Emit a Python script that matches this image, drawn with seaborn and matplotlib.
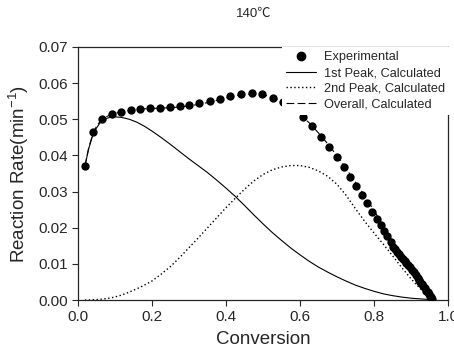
import numpy as np
import pandas as pd
import seaborn as sns
import matplotlib
matplotlib.use("Agg")
import matplotlib.pyplot as plt
from matplotlib.lines import Line2D

# experimental points
exp_conv = [0.020, 0.043, 0.067, 0.092, 0.117, 0.143, 0.169, 0.196, 0.222, 0.249,
            0.276, 0.302, 0.329, 0.356, 0.383, 0.411, 0.440, 0.470, 0.498, 0.526,
            0.555, 0.582, 0.607, 0.632, 0.656, 0.678, 0.699, 0.718, 0.735, 0.751,
            0.768, 0.781, 0.795, 0.807, 0.818, 0.827, 0.835, 0.845, 0.852,
            0.857, 0.862, 0.867, 0.872, 0.877, 0.882, 0.887, 0.892, 0.897, 0.902,
            0.907, 0.912, 0.917, 0.921, 0.925, 0.929, 0.933, 0.937, 0.941, 0.944,
            0.947, 0.950, 0.952, 0.954, 0.956]
exp_rate = [0.0371, 0.0465, 0.0500, 0.0514, 0.0520, 0.0525, 0.0528, 0.0530, 0.0532, 0.0534,
            0.0537, 0.0540, 0.0545, 0.0550, 0.0556, 0.0564, 0.0570, 0.0573, 0.0570, 0.0560,
            0.0548, 0.0530, 0.0506, 0.0481, 0.0450, 0.0422, 0.0396, 0.0367, 0.0341, 0.0315,
            0.0290, 0.0267, 0.0244, 0.0223, 0.0207, 0.0192, 0.0177, 0.0161, 0.0147,
            0.0140, 0.0133, 0.0127, 0.0120, 0.0114, 0.0108, 0.0102, 0.0097, 0.0091, 0.0084,
            0.0077, 0.0070, 0.0062, 0.0056, 0.0050, 0.0044, 0.0038, 0.0032, 0.0026, 0.0021,
            0.0016, 0.0011, 0.0008, 0.0005, 0.0002]

# calculated curves, read at these conversions
calc_conv = [0.02, 0.03, 0.04, 0.05, 0.06, 0.07, 0.08, 0.09, 0.10, 0.12, 0.14, 0.16, 0.18,
             0.20, 0.225, 0.25, 0.275, 0.30, 0.325, 0.35, 0.375, 0.40, 0.425, 0.45, 0.475,
             0.50, 0.525, 0.55, 0.575, 0.60, 0.625, 0.65, 0.675, 0.70, 0.725, 0.75, 0.775,
             0.80, 0.825, 0.85, 0.875, 0.90, 0.925, 0.94, 0.956]
peak1_rate = [0.0370, 0.0418, 0.0452, 0.0474, 0.0489, 0.0498, 0.0503, 0.0506, 0.0507, 0.0505,
              0.0500, 0.0492, 0.0481, 0.0468, 0.0450, 0.0431, 0.0411, 0.0391, 0.0372, 0.0353,
              0.0332, 0.0310, 0.0287, 0.0262, 0.0236, 0.0211, 0.0187, 0.0165, 0.0144, 0.0125,
              0.0107, 0.0091, 0.0077, 0.0064, 0.0052, 0.0041, 0.0032, 0.0024, 0.0017, 0.0012,
              0.0008, 0.0005, 0.0003, 0.0002, 0.0]
peak2_rate = [0.0, 0.0, 0.0001, 0.0001, 0.0002, 0.0003, 0.0004, 0.0006, 0.0008, 0.0014,
              0.0022, 0.0031, 0.0041, 0.0052, 0.0071, 0.0092, 0.0117, 0.0144, 0.0171, 0.0199,
              0.0227, 0.0255, 0.0281, 0.0306, 0.0329, 0.0347, 0.0360, 0.0368, 0.0372, 0.0372,
              0.0367, 0.0357, 0.0342, 0.0320, 0.0289, 0.0252, 0.0217, 0.0185, 0.0154, 0.0122,
              0.0089, 0.0058, 0.0031, 0.0018, 0.0]
overall_rate = [0.0370, 0.0420, 0.0455, 0.0478, 0.0493, 0.0502, 0.0508, 0.0513, 0.0516, 0.0521,
                0.0525, 0.0527, 0.0529, 0.0530, 0.0531, 0.0532, 0.0534, 0.0537, 0.0541, 0.0546,
                0.0552, 0.0559, 0.0565, 0.0569, 0.0570, 0.0568, 0.0561, 0.0550, 0.0534, 0.0514,
                0.0490, 0.0462, 0.0432, 0.0399, 0.0363, 0.0325, 0.0287, 0.0247, 0.0205, 0.0162,
                0.0122, 0.0084, 0.0048, 0.0028, 0.0]

sns.set_style("ticks")
plt.rcParams["font.family"] = ["Liberation Sans", "Noto Sans CJK SC", "DejaVu Sans"]
plt.rcParams["mathtext.default"] = "regular"

fig = plt.figure(figsize=(4.54, 3.55), dpi=100)
ax = fig.add_axes([77.5 / 454, 1 - 300 / 355, 370.8 / 454, 253 / 355])

calc = pd.DataFrame({"conv": calc_conv, "p1": peak1_rate, "p2": peak2_rate, "all": overall_rate})
sns.lineplot(data=calc, x="conv", y="p1", ax=ax, color="black", lw=0.8, sort=False)
sns.lineplot(data=calc, x="conv", y="p2", ax=ax, color="black", lw=1.0, linestyle=(0, (1, 1.8)), sort=False)
sns.lineplot(data=calc, x="conv", y="all", ax=ax, color="black", lw=0.8, linestyle=(0, (7, 3)), sort=False)
sns.scatterplot(x=exp_conv, y=exp_rate, ax=ax, color="black", s=36, edgecolor="black", linewidth=0, zorder=4)

ax.set_xlim(0, 1.0)
ax.set_ylim(0, 0.07)
ax.set_xticks([0.0, 0.2, 0.4, 0.6, 0.8, 1.0])
ax.set_xticklabels(["0.0", "0.2", "0.4", "0.6", "0.8", "1.0"])
ax.set_yticks([0.0, 0.01, 0.02, 0.03, 0.04, 0.05, 0.06, 0.07])
ax.set_yticklabels(["0.00", "0.01", "0.02", "0.03", "0.04", "0.05", "0.06", "0.07"])
ax.tick_params(direction="out", length=4, width=0.8, labelsize=11, pad=3)
for sp in ax.spines.values():
    sp.set_linewidth(0.9)
    sp.set_visible(True)

ax.set_xlabel("Conversion", fontsize=13.5, labelpad=5)
ax.set_ylabel("Reaction Rate(min$^{-1}$)", fontsize=13.5, labelpad=5)
fig.text(254 / 454, 1 - 14 / 355, "140\u2103", ha="center", va="center", fontsize=9.5)

handles = [
    Line2D([], [], marker="o", color="black", linestyle="none", markersize=6),
    Line2D([], [], color="black", lw=0.8),
    Line2D([], [], color="black", lw=1.0, linestyle=(0, (1, 1.8))),
    Line2D([], [], color="black", lw=0.8, linestyle=(0, (7, 3))),
]
labels = ["Experimental", "1st Peak, Calculated", "2nd Peak, Calculated", "Overall, Calculated"]
leg = ax.legend(handles, labels, loc="upper left", bbox_to_anchor=(282 / 454, 1 - 47 / 355),
                bbox_transform=fig.transFigure, fontsize=9.2, frameon=True, fancybox=False,
                facecolor="white", edgecolor="none", framealpha=1, borderpad=0.35,
                borderaxespad=0, handlelength=2.3, handletextpad=0.65, labelspacing=0.28)

fig.savefig("out.png", dpi=100)
